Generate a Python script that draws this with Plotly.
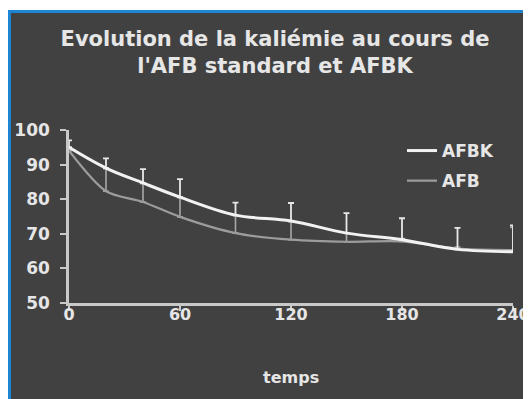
import plotly.graph_objects as go

# ---- data ----
temps = [0, 20, 40, 60, 90, 120, 150, 180, 210, 240]
afbk = [95.0, 89.0, 84.7, 80.6, 75.4, 73.7, 70.2, 68.3, 65.5, 64.8]
afbk_err = [2.0, 2.8, 4.0, 5.2, 3.6, 5.2, 5.8, 6.2, 6.2, 7.6]
afb = [94.0, 82.3, 79.2, 74.9, 70.2, 68.3, 67.7, 67.8, 65.7, 65.3]
afb_err = [1.0, 6.5, 5.3, 5.5, 5.0, 5.2, 2.5, 0.8, 0.5, 6.5]
x_ticks = [0, 60, 120, 180, 240]
y_ticks = [50, 60, 70, 80, 90, 100]

# page is offset by the default 8px body margin
OFF = 8
PAGE_W, PAGE_H = 531, 399
W, H = PAGE_W - OFF, PAGE_H - OFF
# plot area in page pixels: x 69..513, y 130..303
ML, MR = 69 - OFF, PAGE_W - 513
MT, MB = 130 - OFF, PAGE_H - 303
PW, PH = W - ML - MR, H - MT - MB

BG = "#414141"
TXT = "#e6e6e6"
AX = "#c9c9c9"
FONT = "DejaVu Sans"

def fx(page_x):
    return (page_x - OFF - ML) / PW

def fy(page_y):
    return (H - MB - (page_y - OFF)) / PH

fig = go.Figure()

fig.add_trace(go.Scatter(
    x=temps, y=afb, name="<b>AFB</b>", mode="lines",
    line=dict(color="#9c9c9c", width=2.2, shape="spline", smoothing=0.8),
    error_y=dict(type="data", symmetric=False, array=afb_err,
                 arrayminus=[0] * len(afb_err), color="#a8a8a8",
                 thickness=1.6, width=3),
    legendrank=2, legendgroup="b", cliponaxis=False,
))
fig.add_trace(go.Scatter(
    x=temps, y=afbk, name="<b>AFBK</b>", mode="lines",
    line=dict(color="#f2f2f2", width=3, shape="spline", smoothing=1.0),
    error_y=dict(type="data", symmetric=False, array=afbk_err,
                 arrayminus=[0] * len(afbk_err), color="#e8e8e8",
                 thickness=1.8, width=3),
    legendrank=1, legendgroup="a", cliponaxis=False,
))

fig.add_shape(type="rect", xref="paper", yref="paper",
              x0=fx(9.5), x1=fx(545), y0=fy(11.5), y1=fy(420),
              fillcolor=BG, line=dict(color="#1e84d4", width=3),
              layer="below")

fig.add_annotation(text="<b>temps</b>", xref="paper", yref="paper",
                   x=fx(291), y=fy(377), xanchor="center", yanchor="middle",
                   showarrow=False, font=dict(family=FONT, size=16, color=TXT))

fig.update_layout(
    template="none",
    width=W, height=H,
    margin=dict(l=ML, r=MR, t=MT, b=MB, autoexpand=False),
    paper_bgcolor="white",
    plot_bgcolor="rgba(0,0,0,0)",
    font=dict(family=FONT, color=TXT, size=16),
    title=dict(
        text="<b>Evolution de la kaliémie au cours de<br>l'AFB standard et AFBK</b>",
        x=(275 - OFF) / W, xanchor="center", xref="container",
        y=1 - 38 / H, yanchor="middle", yref="container",
        font=dict(family=FONT, size=21, color=TXT),
    ),
    showlegend=True,
    legend=dict(
        x=fx(402), xanchor="left", y=fy(133), yanchor="top",
        bgcolor="rgba(0,0,0,0)", font=dict(family=FONT, size=17, color=TXT),
        tracegroupgap=5, itemwidth=30, traceorder="grouped",
        borderwidth=0,
    ),
    xaxis=dict(
        automargin=False,
        range=[0, 240], tickvals=x_ticks,
        ticktext=[f"<b>{v}</b>" for v in x_ticks],
        showgrid=False, zeroline=False,
        showline=True, linecolor=AX, linewidth=2.5,
        ticks="outside", ticklen=5, tickwidth=1.5, tickcolor=AX,
        tickfont=dict(family=FONT, size=16, color=TXT),
        ticklabelstandoff=-10,
    ),
    yaxis=dict(
        automargin=False,
        range=[50, 100], tickvals=y_ticks,
        ticktext=[f"<b>{v}</b>" for v in y_ticks],
        showgrid=False, zeroline=False,
        showline=True, linecolor=AX, linewidth=2.5,
        ticks="outside", ticklen=6, tickwidth=1.5, tickcolor=AX,
        tickfont=dict(family=FONT, size=17, color=TXT),
        ticklabelstandoff=7,
    ),
)

fig.write_html("out.html")
